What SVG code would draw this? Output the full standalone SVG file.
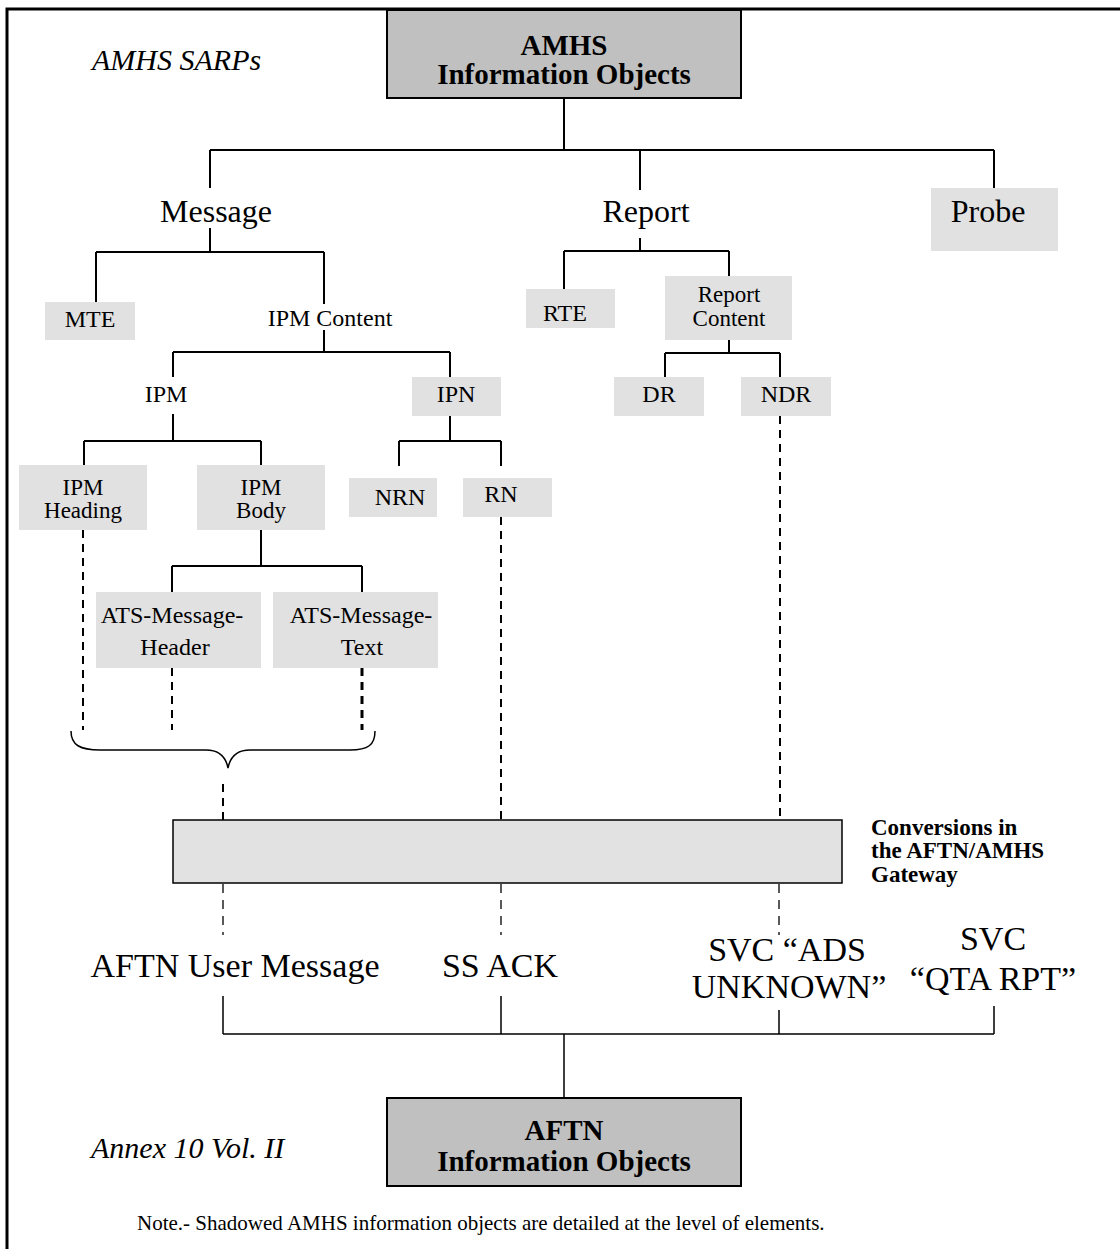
<svg xmlns="http://www.w3.org/2000/svg" width="1120" height="1249" viewBox="0 0 1120 1249">
  <style>
    .frame { fill: none; stroke: #000; stroke-width: 3; }
    .title { fill: #c0c0c0; stroke: #000; stroke-width: 2; }
    .shade { fill: #e1e1e1; stroke: none; }
    .gw { fill: #e2e2e2; stroke: #000; stroke-width: 1.5; }
    .ln { fill: none; stroke: #000; stroke-width: 2; }
    .thin { fill: none; stroke: #000; stroke-width: 1.5; }
    .dash { fill: none; stroke: #000; stroke-width: 2; stroke-dasharray: 8 6; }
    .dashthin { fill: none; stroke: #000; stroke-width: 1.3; stroke-dasharray: 9 7; }
    text { font-family: "Liberation Serif", "Times New Roman", serif; fill: #000; }
    .tb { font-size: 29px; font-weight: bold; text-anchor: middle; }
    .it { font-size: 30px; font-style: italic; }
    .big { font-size: 32px; text-anchor: middle; }
    .lbl { font-size: 24px; text-anchor: middle; }
    .lbl2 { font-size: 23px; text-anchor: middle; }
    .out { font-size: 34px; text-anchor: middle; }
    .gwt { font-size: 23px; font-weight: bold; }
    .note { font-size: 21px; }
  </style>

  <!-- page frame (right and bottom edges lie outside the view) -->
  <rect class="frame" x="7" y="9" width="1130" height="1260"/>

  <!-- side captions -->
  <text class="it" x="92" y="70">AMHS SARPs</text>
  <text class="it" x="91" y="1158">Annex 10 Vol. II</text>

  <!-- connectors -->
  <g id="connectors">
    <!-- top level -->
    <path class="ln" d="M564,98 V150 M210,150 H994 M210,150 V188 M640,150 V190 M994,150 V188"/>
    <!-- Message -->
    <path class="ln" d="M210,228 V252 M96,252 H324 M96,252 V302 M324,252 V304"/>
    <!-- IPM Content -->
    <path class="ln" d="M324,330 V352 M173,352 H450 M173,352 V377 M450,352 V377"/>
    <!-- IPM -->
    <path class="ln" d="M173,414 V441 M84,441 H261 M84,441 V465 M261,441 V465"/>
    <!-- IPN -->
    <path class="ln" d="M450,416 V441 M399,441 H501 M399,441 V466 M501,441 V466"/>
    <!-- IPM Body -->
    <path class="ln" d="M261,530 V566 M172,566 H362 M172,566 V592 M362,566 V592"/>
    <!-- Report -->
    <path class="ln" d="M640,238 V251 M564,251 H729 M564,251 V289 M729,251 V276"/>
    <!-- Report Content -->
    <path class="ln" d="M729,340 V353 M665,353 H780 M665,353 V377 M780,353 V377"/>

    <!-- element links down to the gateway -->
    <path class="dash" d="M83,530 V730"/>
    <path class="dash" d="M172,668 V730"/>
    <path class="dash" d="M362,668 V730" style="stroke-width:3"/>
    <path class="dash" d="M501,517 V820"/>
    <path class="dash" d="M780,416 V820"/>
    <path class="thin" d="M71,731 C71,745 80,750 100,750 L206,750 C220,750 226,758 228,768 C230,758 236,750 250,750 L350,750 C368,750 375,745 375,731"/>
    <path class="dash" d="M223,784 V820"/>

    <!-- gateway to AFTN objects -->
    <path class="dashthin" d="M223,884 V935 M501,884 V935 M779,884 V935"/>
    <path class="thin" d="M223,996 V1034 M501,996 V1034 M779,1010 V1034 M994,1006 V1034 M223,1034 H994 M564,1034 V1098"/>
  </g>

  <!-- AMHS root -->
  <g id="amhs-objects">
    <rect class="title" x="387" y="10" width="354" height="88"/>
    <text class="tb" x="564" y="55">AMHS</text>
    <text class="tb" x="564" y="84">Information Objects</text>
  </g>

  <g id="message"><text class="big" x="216" y="222">Message</text></g>
  <g id="report"><text class="big" x="646" y="222">Report</text></g>
  <g id="probe">
    <rect class="shade" x="931" y="188" width="127" height="63"/>
    <text class="big" x="988" y="222">Probe</text>
  </g>

  <g id="mte">
    <rect class="shade" x="45" y="302" width="90" height="38"/>
    <text class="lbl" x="90" y="327">MTE</text>
  </g>
  <g id="ipm-content"><text class="lbl" x="330" y="326">IPM Content</text></g>
  <g id="rte">
    <rect class="shade" x="526" y="289" width="89" height="39"/>
    <text class="lbl" x="565" y="321">RTE</text>
  </g>
  <g id="report-content">
    <rect class="shade" x="665" y="276" width="127" height="64"/>
    <text class="lbl2" x="729" y="302">Report</text>
    <text class="lbl2" x="729" y="326">Content</text>
  </g>

  <g id="ipm"><text class="lbl" x="166" y="402">IPM</text></g>
  <g id="ipn">
    <rect class="shade" x="412" y="377" width="89" height="39"/>
    <text class="lbl" x="456" y="402">IPN</text>
  </g>
  <g id="dr">
    <rect class="shade" x="614" y="377" width="90" height="39"/>
    <text class="lbl" x="659" y="402">DR</text>
  </g>
  <g id="ndr">
    <rect class="shade" x="741" y="377" width="90" height="39"/>
    <text class="lbl" x="786" y="402">NDR</text>
  </g>

  <g id="ipm-heading">
    <rect class="shade" x="19" y="465" width="128" height="65"/>
    <text class="lbl2" x="83" y="495">IPM</text>
    <text class="lbl2" x="83" y="518">Heading</text>
  </g>
  <g id="ipm-body">
    <rect class="shade" x="197" y="465" width="128" height="65"/>
    <text class="lbl2" x="261" y="495">IPM</text>
    <text class="lbl2" x="261" y="518">Body</text>
  </g>
  <g id="nrn">
    <rect class="shade" x="349" y="478" width="88" height="39"/>
    <text class="lbl" x="400" y="505">NRN</text>
  </g>
  <g id="rn">
    <rect class="shade" x="463" y="478" width="89" height="39"/>
    <text class="lbl" x="501" y="502">RN</text>
  </g>

  <g id="ats-message-header">
    <rect class="shade" x="96" y="592" width="165" height="76"/>
    <text class="lbl" x="172" y="623">ATS-Message-</text>
    <text class="lbl" x="175" y="655">Header</text>
  </g>
  <g id="ats-message-text">
    <rect class="shade" x="273" y="592" width="165" height="76"/>
    <text class="lbl" x="361" y="623">ATS-Message-</text>
    <text class="lbl" x="362" y="655">Text</text>
  </g>

  <g id="gateway">
    <rect class="gw" x="173" y="820" width="669" height="63"/>
    <text class="gwt" x="871" y="835">Conversions in</text>
    <text class="gwt" x="871" y="858">the AFTN/AMHS</text>
    <text class="gwt" x="871" y="882">Gateway</text>
  </g>

  <g id="aftn-user-message"><text class="out" x="235" y="977">AFTN User Message</text></g>
  <g id="ss-ack"><text class="out" x="500" y="977">SS ACK</text></g>
  <g id="svc-ads-unknown">
    <text class="out" x="787" y="961">SVC “ADS</text>
    <text class="out" x="789" y="998">UNKNOWN”</text>
  </g>
  <g id="svc-qta-rpt">
    <text class="out" x="993" y="950">SVC</text>
    <text class="out" x="993" y="990">“QTA RPT”</text>
  </g>

  <g id="aftn-objects">
    <rect class="title" x="387" y="1098" width="354" height="88"/>
    <text class="tb" x="564" y="1140">AFTN</text>
    <text class="tb" x="564" y="1171">Information Objects</text>
  </g>

  <text class="note" x="137" y="1230">Note.- Shadowed AMHS information objects are detailed at the level of elements.</text>
</svg>
